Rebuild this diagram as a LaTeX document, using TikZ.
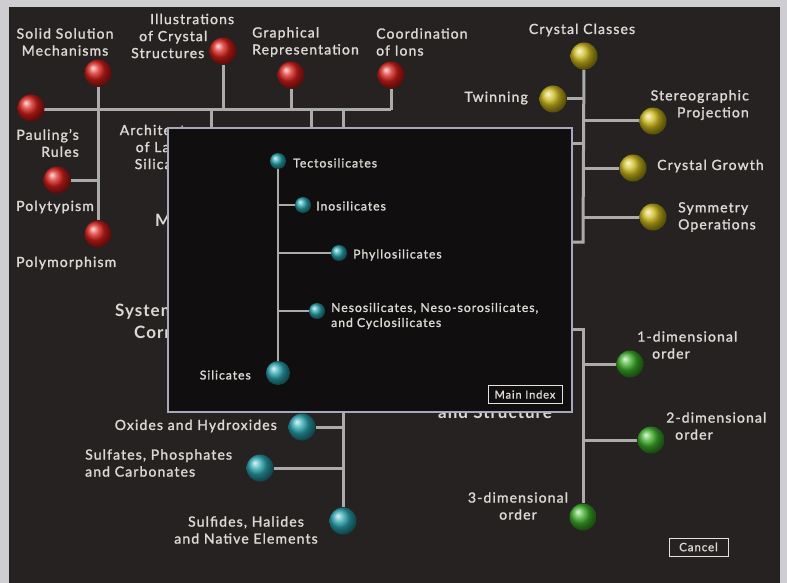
\documentclass[tikz,border=0pt]{standalone}
\usepackage{fontspec}
\setmainfont{Lato}[LetterSpace=8, BoldFont=Lato, BoldFeatures={FakeBold=1.5}]
\newfontfamily\heavyfont{Lato Bold}[LetterSpace=6]
\definecolor{outer}{HTML}{CDCDD2}
\definecolor{bgdark}{HTML}{262222}
\definecolor{paneldark}{HTML}{100E0F}
\definecolor{panelrim}{HTML}{A9A7BD}
\definecolor{wire}{HTML}{ABABAB}
\definecolor{txt}{HTML}{DCD8D3}
\definecolor{cred}{RGB}{215,30,25}
\definecolor{cyel}{RGB}{205,185,25}
\definecolor{ccyan}{RGB}{40,165,175}
\definecolor{cgrn}{RGB}{60,175,40}
\pgfdeclarelayer{bgl}
\pgfdeclarelayer{wires}
\pgfdeclarelayer{panel}
\pgfdeclarelayer{pwires}
\pgfdeclarelayer{pfront}
\pgfsetlayers{bgl,wires,main,panel,pwires,pfront}
\tikzset{
  lbl/.style={text=txt, inner sep=0pt, font=\fontsize{14}{17}\selectfont\bfseries},
  plbl/.style={text=txt, inner sep=0pt, font=\fontsize{12.2}{15}\selectfont\bfseries},
  biglbl/.style={text=txt, inner sep=0pt, font=\fontsize{17}{22}\heavyfont},
  ln/.style={draw=wire, line width=3pt},
  pln/.style={draw=wire, line width=2.5pt},
  orb/.style={circle, inner sep=0pt, minimum size=27pt, shading=ball},
  redorb/.style={orb, ball color=cred},
  yelorb/.style={orb, ball color=cyel},
  cyanorb/.style={orb, ball color=ccyan},
  grnorb/.style={orb, ball color=cgrn},
  smallorb/.style={orb, minimum size=16pt, ball color=ccyan},
  btn/.style={draw=txt!75, line width=0.8pt, text=txt, inner sep=0pt, font=\fontsize{11.5}{13}\selectfont\bfseries},
}
\begin{document}
\begin{tikzpicture}[x=1pt,y=-1pt]
\useasboundingbox (0,0) rectangle (787,583);
\begin{pgfonlayer}{bgl}
\fill[outer] (0,0) rectangle (787,583);
\fill[bgdark] (9,7) rectangle (780,583);
\end{pgfonlayer}

% ---------- red cluster ----------
\node[redorb] (solid) at (98,73) {};
\node[redorb] (illus) at (223,51) {};
\node[redorb] (graph) at (291,75) {};
\node[redorb] (coord) at (391,75) {};
\node[redorb] (pauling) at (31,108) {};
\node[redorb] (polyt) at (57,180) {};
\node[redorb] (polym) at (98,234) {};
\coordinate (jco) at (391,110);
\coordinate (t1) at (211,110);
\coordinate (t2) at (311,110);
\coordinate (t3) at (343,110);

\node[lbl, align=center] (lsolid) at (65,42) {Solid Solution\\Mechanisms};
\node[lbl, align=left, anchor=west] (lillus) at (131,36) {\hspace*{19pt}Illustrations\\\hspace*{8pt}of Crystal\\Structures};
\node[lbl, align=left, anchor=west] (lgraph) at (252,42) {Graphical\\Representation};
\node[lbl, align=left, anchor=west] (lcoord) at (376,42) {Coordination\\of Ions};
\node[lbl, align=right, anchor=east] (lpaul) at (79,143) {Pauling's\\Rules};
\node[lbl, anchor=west] (lpolyt) at (16,207) {Polytypism};
\node[lbl, anchor=west] (lpolym) at (16,263) {Polymorphism};
\node[lbl, align=center] (larch) at (164,147) {Architecture\\of Layer\\Silicates};
\node[biglbl, anchor=west] (lmin) at (155,220) {Mineral};
\node[biglbl, align=left, anchor=west] (lsys) at (115,321) {Systematic\\\hspace*{19pt}Correlation};
\node[biglbl, anchor=base west] (lstruct) at (438,418) {and Structure};

% ---------- yellow cluster ----------
\node[yelorb] (cclass) at (584,56) {};
\node[yelorb] (twin) at (553,99) {};
\node[yelorb] (stereo) at (653,121) {};
\node[yelorb] (growth) at (633,168) {};
\node[yelorb] (symm) at (653,217) {};
\coordinate (ybot) at (583,242);
\coordinate (ytick) at (583,144);
\node[lbl] (lcclass) at (582,30) {Crystal Classes};
\node[lbl, anchor=east] (ltwin) at (528,98) {Twinning};
\node[lbl, align=right, anchor=east] (lstereo) at (749,105) {Stereographic\\Projection};
\node[lbl, anchor=west] (lgrowth) at (657,166) {Crystal Growth};
\node[lbl, align=left, anchor=west] (lsymm) at (678,217) {Symmetry\\Operations};

% ---------- green cluster ----------
\node[grnorb] (dim1) at (630,364) {};
\node[grnorb] (dim2) at (651,440) {};
\node[grnorb] (dim3) at (583,517) {};
\coordinate (gtop) at (583,329);
\node[lbl, align=left, anchor=west] (ldim1) at (637,345) {1-dimensional\\\hspace*{15pt}order};
\node[lbl, align=left, anchor=west] (ldim2) at (666,426) {2-dimensional\\\hspace*{9pt}order};
\node[lbl, align=center] (ldim3) at (518,506) {3-dimensional\\order};
\node[btn, minimum width=59pt, minimum height=18pt] (cancel) at (698.5,547) {Cancel};

% ---------- cyan cluster ----------
\node[cyanorb] (oxides) at (302,427) {};
\node[cyanorb] (sulfates) at (260,468) {};
\node[cyanorb] (sulfides) at (343,521) {};
\node[lbl, anchor=east] (loxides) at (277,426) {Oxides and Hydroxides};
\node[lbl, align=left, anchor=west] (lsulfates) at (85,463) {Sulfates, Phosphates\\and Carbonates};
\node[lbl, align=center] (lsulfides) at (246,530) {Sulfides, Halides\\and Native Elements};

% ---------- panel ----------
\begin{pgfonlayer}{panel}
\node[draw=panelrim, line width=2pt, fill=paneldark, minimum width=404pt, minimum height=284pt, inner sep=0pt] (panel) at (370,270) {};
\end{pgfonlayer}

% ---------- wires ----------
\begin{pgfonlayer}{wires}
\draw[ln] (pauling.center |- jco) -- (jco);
\draw[ln] (solid) -- (polym);
\draw[ln] (polyt) -- (polyt -| solid);
\draw[ln] (illus) -- (illus |- jco);
\draw[ln] (graph) -- (graph |- jco);
\draw[ln] (coord) -- (jco);
\draw[ln] (t1) -- (t1 |- panel.north);
\draw[ln] (t2) -- (t2 |- panel.north);
\draw[ln] (t3) -- (t3 |- panel.north);
\draw[ln] (cclass) -- (ybot) -- (ybot -| panel.east);
\draw[ln] (ytick) -- (ytick -| panel.east);
\draw[ln] (twin) -- (twin -| cclass);
\draw[ln] (stereo) -- (stereo -| ybot);
\draw[ln] (growth) -- (growth -| ybot);
\draw[ln] (symm) -- (symm -| ybot);
\draw[ln] (gtop -| panel.east) -- (gtop) -- (dim3);
\draw[ln] (dim1) -- (dim1 -| gtop);
\draw[ln] (dim2) -- (dim2 -| gtop);
\draw[ln] (sulfides) -- (sulfides |- panel.south);
\draw[ln] (oxides) -- (oxides -| sulfides);
\draw[ln] (sulfates) -- (sulfates -| sulfides);
\end{pgfonlayer}

\begin{pgfonlayer}{pfront}
\node[smallorb] (tecto) at (278,161) {};
\node[smallorb] (ino) at (303,205) {};
\node[smallorb] (phyllo) at (339,253) {};
\node[smallorb] (neso) at (317,311) {};
\node[orb, minimum size=24pt, ball color=ccyan] (silic) at (278,373) {};
\node[plbl, anchor=west] (ltecto) at (293,163) {Tectosilicates};
\node[plbl, anchor=west] (lino) at (316,206) {Inosilicates};
\node[plbl, anchor=west] (lphyllo) at (353,255) {Phyllosilicates};
\node[plbl, align=left, anchor=west] (lneso) at (331,316) {Nesosilicates, Neso-sorosilicates,\\and Cyclosilicates};
\node[plbl, anchor=east] (lsilic) at (251,375) {Silicates};
\node[btn, minimum width=74pt, minimum height=18pt, font=\fontsize{11}{12}\selectfont\bfseries] (mainidx) at (525,394.5) {Main Index};
\end{pgfonlayer}
\begin{pgfonlayer}{pwires}
\draw[pln] (silic) -- (tecto);
\draw[pln] (ino) -- (ino -| tecto);
\draw[pln] (phyllo) -- (phyllo -| tecto);
\draw[pln] (neso) -- (neso -| tecto);
\end{pgfonlayer}
\end{tikzpicture}
\end{document}
